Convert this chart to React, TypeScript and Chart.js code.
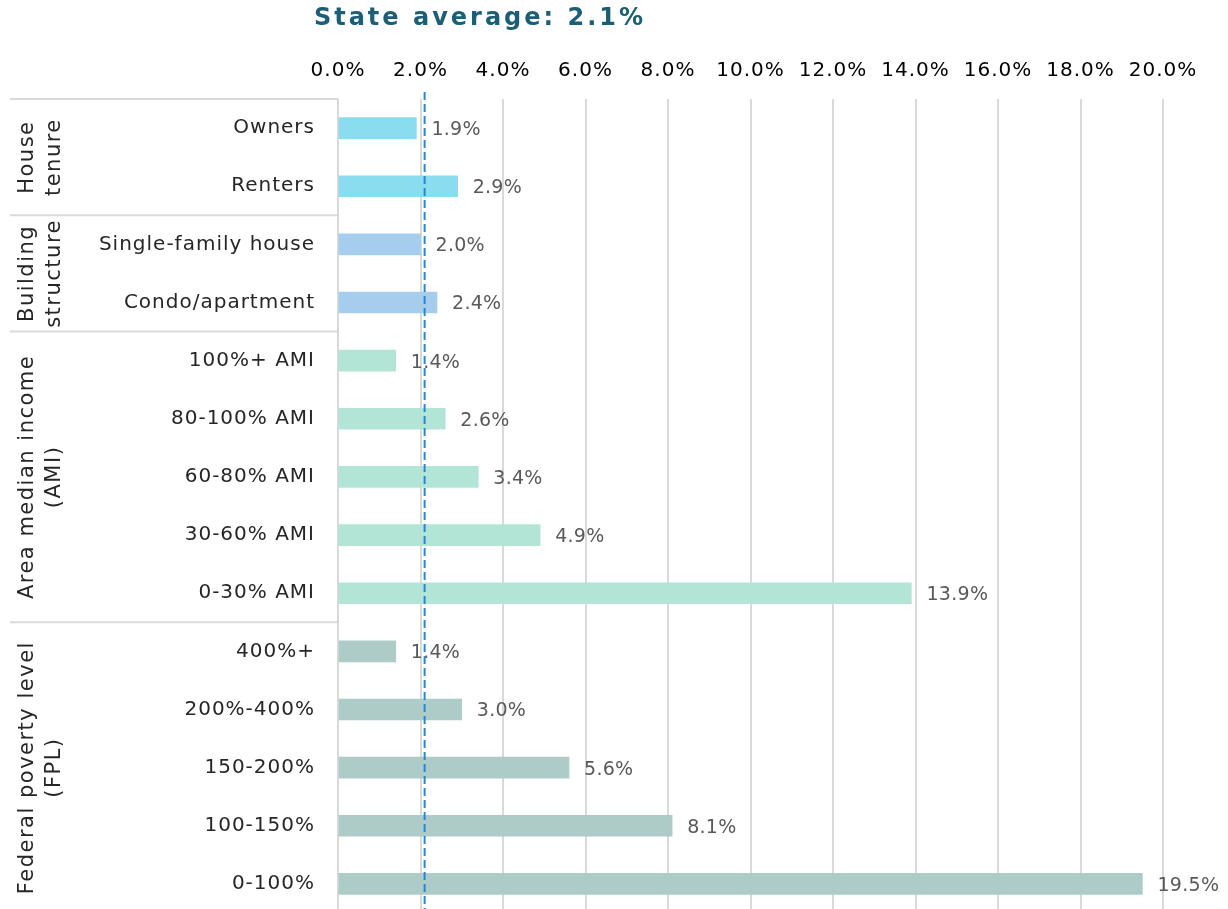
import React, { useEffect, useRef } from "react";
import { Chart, registerables } from "chart.js";

Chart.register(...registerables);

const categories = [
  "Owners",
  "Renters",
  "Single-family house",
  "Condo/apartment",
  "100%+ AMI",
  "80-100% AMI",
  "60-80% AMI",
  "30-60% AMI",
  "0-30% AMI",
  "400%+",
  "200%-400%",
  "150-200%",
  "100-150%",
  "0-100%",
];
const values = [1.9, 2.9, 2.0, 2.4, 1.4, 2.6, 3.4, 4.9, 13.9, 1.4, 3.0, 5.6, 8.1, 19.5];
const groupNames = [["House", "tenure"], ["Building", "structure"], ["Area median income", "(AMI)"], ["Federal poverty level", "(FPL)"]];
const groupSizes = [2, 2, 5, 5];
const groupColors = ["#8ADCEF", "#A6CDEC", "#B3E5D7", "#ADCCC7"];
const stateAverage = 2.1;
const titleText = "State average: 2.1%";
const xMin = 0;
const xMax = 20;
const xStep = 2;

const FONT = "'DejaVu Sans', sans-serif";

const barColors: string[] = [];
groupSizes.forEach((n, g) => {
  for (let i = 0; i < n; i++) barColors.push(groupColors[g]);
});

const spacingPlugin = {
  id: "spacing",
  beforeDraw(chart: any) {
    chart.ctx.letterSpacing = "1px";
  },
};

const overlayPlugin = {
  id: "overlay",
  afterDatasetsDraw(chart: any) {
    const { ctx, chartArea, scales } = chart;
    const x = scales.x;
    const y = scales.y;
    ctx.save();
    // data labels
    ctx.letterSpacing = "0.3px";
    ctx.font = `19px ${FONT}`;
    ctx.fillStyle = "#595959";
    ctx.textAlign = "left";
    ctx.textBaseline = "middle";
    values.forEach((v, i) => {
      ctx.fillText(v.toFixed(1) + "%", x.getPixelForValue(v) + 15, y.getPixelForValue(i) + 2);
    });
    // dashed average line
    const ax = x.getPixelForValue(stateAverage);
    ctx.strokeStyle = "#2E86C8";
    ctx.lineWidth = 2;
    ctx.setLineDash([8, 4]);
    ctx.beginPath();
    ctx.moveTo(ax, chartArea.top - 7);
    ctx.lineTo(ax, chartArea.bottom);
    ctx.stroke();
    ctx.setLineDash([]);
    // title
    ctx.letterSpacing = "3px";
    ctx.font = `bold 24px ${FONT}`;
    ctx.fillStyle = "#1B5E75";
    ctx.textAlign = "center";
    ctx.textBaseline = "middle";
    ctx.fillText(titleText, 480, 19);
    // group separators & labels
    ctx.strokeStyle = "#D9D9D9";
    ctx.lineWidth = 2;
    const left = 10;
    ctx.beginPath();
    ctx.moveTo(left, chartArea.top);
    ctx.lineTo(chartArea.left, chartArea.top);
    ctx.stroke();
    let idx = 0;
    groupSizes.forEach((n, g) => {
      const first = idx;
      const last = idx + n - 1;
      idx += n;
      if (idx < categories.length) {
        const sy = (y.getPixelForValue(last) + y.getPixelForValue(idx)) / 2;
        ctx.beginPath();
        ctx.moveTo(left, sy);
        ctx.lineTo(chartArea.left, sy);
        ctx.stroke();
      }
      const cy = (y.getPixelForValue(first) + y.getPixelForValue(last)) / 2;
      const lines = groupNames[g];
      ctx.save();
      ctx.translate(41, cy);
      ctx.rotate(-Math.PI / 2);
      ctx.letterSpacing = "1.5px";
      ctx.font = `21px ${FONT}`;
      ctx.fillStyle = "#262626";
      ctx.textAlign = "center";
      ctx.textBaseline = "middle";
      const lh = 27;
      lines.forEach((ln, k) => {
        ctx.fillText(ln, 0, (k - (lines.length - 1) / 2) * lh);
      });
      ctx.restore();
    });
    ctx.restore();
  },
};

export default function App() {
  const ref = useRef<HTMLCanvasElement>(null);
  useEffect(() => {
    if (!ref.current) return;
    const chart = new Chart(ref.current, {
      type: "bar",
      data: {
        labels: categories,
        datasets: [
          {
            data: values,
            backgroundColor: barColors,
            barThickness: 21,
          },
        ],
      },
      plugins: [spacingPlugin, overlayPlugin],
      options: {
        responsive: true,
        maintainAspectRatio: false,
        animation: false,
        indexAxis: "y",
        layout: { padding: { left: 0, right: 65, top: 0, bottom: 0 } },
        plugins: {
          legend: { display: false },
          tooltip: { enabled: false },
          title: { display: false },
        },
        scales: {
          x: {
            position: "top",
            min: xMin,
            max: xMax,
            ticks: {
              stepSize: xStep,
              padding: 16,
              color: "#000000",
              font: { family: FONT, size: 20 },
              callback: (v: any) => Number(v).toFixed(1) + "%",
            },
            grid: { color: "#D9D9D9", lineWidth: 2, drawTicks: false },
            border: { display: false },
            afterFit: (s: any) => {
              s.height = 99;
            },
          },
          y: {
            ticks: {
              padding: 23,
              color: "#262626",
              font: { family: FONT, size: 20 },
            },
            grid: { display: false, drawTicks: false },
            border: { display: false },
            afterFit: (s: any) => {
              s.width = 338;
              s.paddingTop = 0;
              s.paddingBottom = 0;
            },
          },
        },
      },
    } as any);
    return () => chart.destroy();
  }, []);
  return (
    <div style={{ position: "fixed", left: 0, top: 0, width: 1228, height: 909, overflow: "hidden", background: "#fff" }}>
      <div style={{ position: "relative", width: 1228, height: 913 }}>
        <canvas ref={ref} />
      </div>
    </div>
  );
}
